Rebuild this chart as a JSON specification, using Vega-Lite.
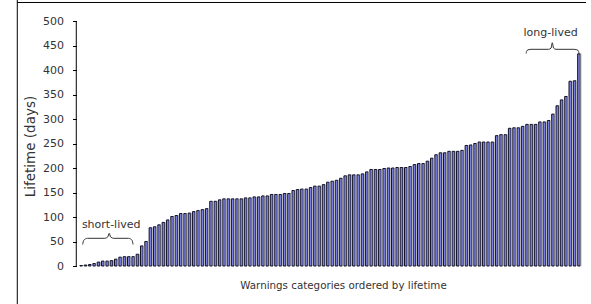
{
  "$schema": "https://vega.github.io/schema/vega-lite/v6.json",
  "width": 591,
  "height": 304,
  "padding": 0,
  "autosize": {"type": "none"},
  "background": "white",
  "config": {"view": {"stroke": null}, "font": "DejaVu Sans"},
  "resolve": {"axis": {"x": "independent", "y": "independent"}},
  "datasets": {
    "bars": [
      {"rank": 0, "days": 1}, {"rank": 1, "days": 2}, {"rank": 2, "days": 3}, {"rank": 3, "days": 5}, {"rank": 4, "days": 8},
      {"rank": 5, "days": 10}, {"rank": 6, "days": 10}, {"rank": 7, "days": 11}, {"rank": 8, "days": 14}, {"rank": 9, "days": 18},
      {"rank": 10, "days": 19}, {"rank": 11, "days": 19}, {"rank": 12, "days": 19}, {"rank": 13, "days": 24}, {"rank": 14, "days": 41},
      {"rank": 15, "days": 50}, {"rank": 16, "days": 78}, {"rank": 17, "days": 80}, {"rank": 18, "days": 84}, {"rank": 19, "days": 89},
      {"rank": 20, "days": 94}, {"rank": 21, "days": 101}, {"rank": 22, "days": 103}, {"rank": 23, "days": 107}, {"rank": 24, "days": 107},
      {"rank": 25, "days": 108}, {"rank": 26, "days": 111}, {"rank": 27, "days": 113}, {"rank": 28, "days": 115}, {"rank": 29, "days": 117},
      {"rank": 30, "days": 132}, {"rank": 31, "days": 132}, {"rank": 32, "days": 135}, {"rank": 33, "days": 137}, {"rank": 34, "days": 137},
      {"rank": 35, "days": 137}, {"rank": 36, "days": 137}, {"rank": 37, "days": 137}, {"rank": 38, "days": 139}, {"rank": 39, "days": 139},
      {"rank": 40, "days": 141}, {"rank": 41, "days": 141}, {"rank": 42, "days": 143}, {"rank": 43, "days": 143}, {"rank": 44, "days": 146},
      {"rank": 45, "days": 146}, {"rank": 46, "days": 146}, {"rank": 47, "days": 148}, {"rank": 48, "days": 148}, {"rank": 49, "days": 154},
      {"rank": 50, "days": 156}, {"rank": 51, "days": 157}, {"rank": 52, "days": 157}, {"rank": 53, "days": 160}, {"rank": 54, "days": 163},
      {"rank": 55, "days": 163}, {"rank": 56, "days": 166}, {"rank": 57, "days": 171}, {"rank": 58, "days": 173}, {"rank": 59, "days": 175},
      {"rank": 60, "days": 179}, {"rank": 61, "days": 184}, {"rank": 62, "days": 186}, {"rank": 63, "days": 186}, {"rank": 64, "days": 186},
      {"rank": 65, "days": 188}, {"rank": 66, "days": 192}, {"rank": 67, "days": 197}, {"rank": 68, "days": 197}, {"rank": 69, "days": 197},
      {"rank": 70, "days": 199}, {"rank": 71, "days": 200}, {"rank": 72, "days": 200}, {"rank": 73, "days": 201}, {"rank": 74, "days": 201},
      {"rank": 75, "days": 201}, {"rank": 76, "days": 203}, {"rank": 77, "days": 207}, {"rank": 78, "days": 209}, {"rank": 79, "days": 209},
      {"rank": 80, "days": 214}, {"rank": 81, "days": 220}, {"rank": 82, "days": 227}, {"rank": 83, "days": 231}, {"rank": 84, "days": 231},
      {"rank": 85, "days": 234}, {"rank": 86, "days": 234}, {"rank": 87, "days": 234}, {"rank": 88, "days": 236}, {"rank": 89, "days": 246},
      {"rank": 90, "days": 247}, {"rank": 91, "days": 250}, {"rank": 92, "days": 253}, {"rank": 93, "days": 253}, {"rank": 94, "days": 253},
      {"rank": 95, "days": 253}, {"rank": 96, "days": 266}, {"rank": 97, "days": 268}, {"rank": 98, "days": 268}, {"rank": 99, "days": 281},
      {"rank": 100, "days": 282}, {"rank": 101, "days": 282}, {"rank": 102, "days": 285}, {"rank": 103, "days": 289}, {"rank": 104, "days": 289},
      {"rank": 105, "days": 289}, {"rank": 106, "days": 294}, {"rank": 107, "days": 294}, {"rank": 108, "days": 297}, {"rank": 109, "days": 310},
      {"rank": 110, "days": 327}, {"rank": 111, "days": 339}, {"rank": 112, "days": 346}, {"rank": 113, "days": 377}, {"rank": 114, "days": 378},
      {"rank": 115, "days": 433}
    ],
    "braces": [
      {"g": "short", "x": 0.34, "y": 43.88}, {"g": "short", "x": 0.569, "y": 52.04}, {"g": "short", "x": 1.024, "y": 55.51},
      {"g": "short", "x": 1.478, "y": 56.53}, {"g": "short", "x": 5.452, "y": 56.53}, {"g": "short", "x": 6.134, "y": 59.18},
      {"g": "short", "x": 6.474, "y": 66.73}, {"g": "short", "x": 6.815, "y": 59.18}, {"g": "short", "x": 7.496, "y": 56.53},
      {"g": "short", "x": 10.903, "y": 56.53}, {"g": "short", "x": 11.357, "y": 55.51}, {"g": "short", "x": 11.766, "y": 52.04},
      {"g": "short", "x": 11.993, "y": 43.88},
      {"g": "long", "x": 102.77, "y": 433.67}, {"g": "long", "x": 102.998, "y": 439.8}, {"g": "long", "x": 103.453, "y": 441.63},
      {"g": "long", "x": 103.907, "y": 442.24}, {"g": "long", "x": 107.995, "y": 442.24}, {"g": "long", "x": 108.563, "y": 444.9},
      {"g": "long", "x": 108.835, "y": 455.71}, {"g": "long", "x": 109.13, "y": 444.9}, {"g": "long", "x": 109.698, "y": 442.24},
      {"g": "long", "x": 113.9, "y": 442.24}, {"g": "long", "x": 114.354, "y": 441.63}, {"g": "long", "x": 114.808, "y": 439.8},
      {"g": "long", "x": 115.035, "y": 433.67}
    ],
    "notes": [
      {"x": 6.93, "y": 83.67, "text": "short-lived"},
      {"x": 108.45, "y": 474.9, "text": "long-lived"}
    ]
  },
  "layer": [
    {
      "data": {"name": "bars"},
      "mark": {"type": "bar", "orient": "vertical", "size": 2.6, "fill": "#7b7fe0", "stroke": "#111122", "strokeWidth": 1},
      "encoding": {
        "x": {
          "field": "rank", "type": "quantitative",
          "scale": {"domain": [-17.6, 116.627], "nice": false},
          "axis": {
            "title": "Warnings categories ordered by lifetime",
            "labels": false, "ticks": false, "domain": false, "grid": false,
            "titleX": 343, "titleY": -19, "titleAlign": "center", "titleBaseline": "middle",
            "titleFont": "DejaVu Sans", "titleFontSize": 10.3, "titleFontWeight": "normal", "titleColor": "#333"
          }
        },
        "y": {
          "field": "days", "type": "quantitative",
          "scale": {"domain": [-77.55, 542.86], "nice": false},
          "axis": {
            "title": "Lifetime (days)",
            "offset": -72.5, "domain": false, "grid": false,
            "values": [0, 50, 100, 150, 200, 250, 300, 350, 400, 450, 500],
            "labelOverlap": false,
            "tickSize": -4, "tickColor": "#000", "tickWidth": 1,
            "labelPadding": 13, "labelFont": "DejaVu Sans", "labelFontSize": 11, "labelColor": "#333",
            "titleFont": "DejaVu Sans", "titleFontSize": 13.5, "titleFontWeight": "normal", "titleColor": "#333",
            "titleX": -42, "titleY": 146, "titleAngle": -90, "titleBaseline": "middle", "titleAlign": "center"
          }
        },
        "y2": {"datum": 0}
      }
    },
    {
      "data": {"name": "bars"},
      "mark": {"type": "bar", "orient": "vertical", "size": 1, "fill": "#b4b4b4", "xOffset": 2},
      "encoding": {
        "x": {"field": "rank", "type": "quantitative", "axis": null},
        "y": {"field": "days", "type": "quantitative", "axis": null},
        "y2": {"datum": 0}
      }
    },
    {
      "data": {"values": [{}]},
      "mark": {"type": "rule", "color": "#000", "strokeWidth": 1},
      "encoding": {
        "x": {"datum": -1.134, "type": "quantitative", "axis": null},
        "y": {"datum": 0, "type": "quantitative", "axis": null},
        "y2": {"datum": 500}
      }
    },
    {
      "data": {"values": [{}]},
      "mark": {"type": "rule", "color": "#000", "strokeWidth": 1},
      "encoding": {
        "x": {"datum": -14.761, "type": "quantitative", "axis": null}
      }
    },
    {
      "data": {"values": [{}]},
      "mark": {"type": "rule", "color": "#000", "strokeWidth": 1},
      "encoding": {
        "x": {"datum": -14.761, "type": "quantitative", "axis": null},
        "x2": {"datum": 116.627},
        "y": {"datum": 537.76, "type": "quantitative", "axis": null}
      }
    },
    {
      "data": {"name": "braces"},
      "mark": {"type": "line", "interpolate": "monotone", "color": "#333", "strokeWidth": 1},
      "encoding": {
        "x": {"field": "x", "type": "quantitative", "axis": null},
        "y": {"field": "y", "type": "quantitative", "axis": null},
        "detail": {"field": "g"}
      }
    },
    {
      "data": {"name": "notes"},
      "mark": {"type": "text", "font": "DejaVu Sans", "fontSize": 11, "color": "#333", "align": "center", "baseline": "middle"},
      "encoding": {
        "x": {"field": "x", "type": "quantitative", "axis": null},
        "y": {"field": "y", "type": "quantitative", "axis": null},
        "text": {"field": "text"}
      }
    }
  ]
}
